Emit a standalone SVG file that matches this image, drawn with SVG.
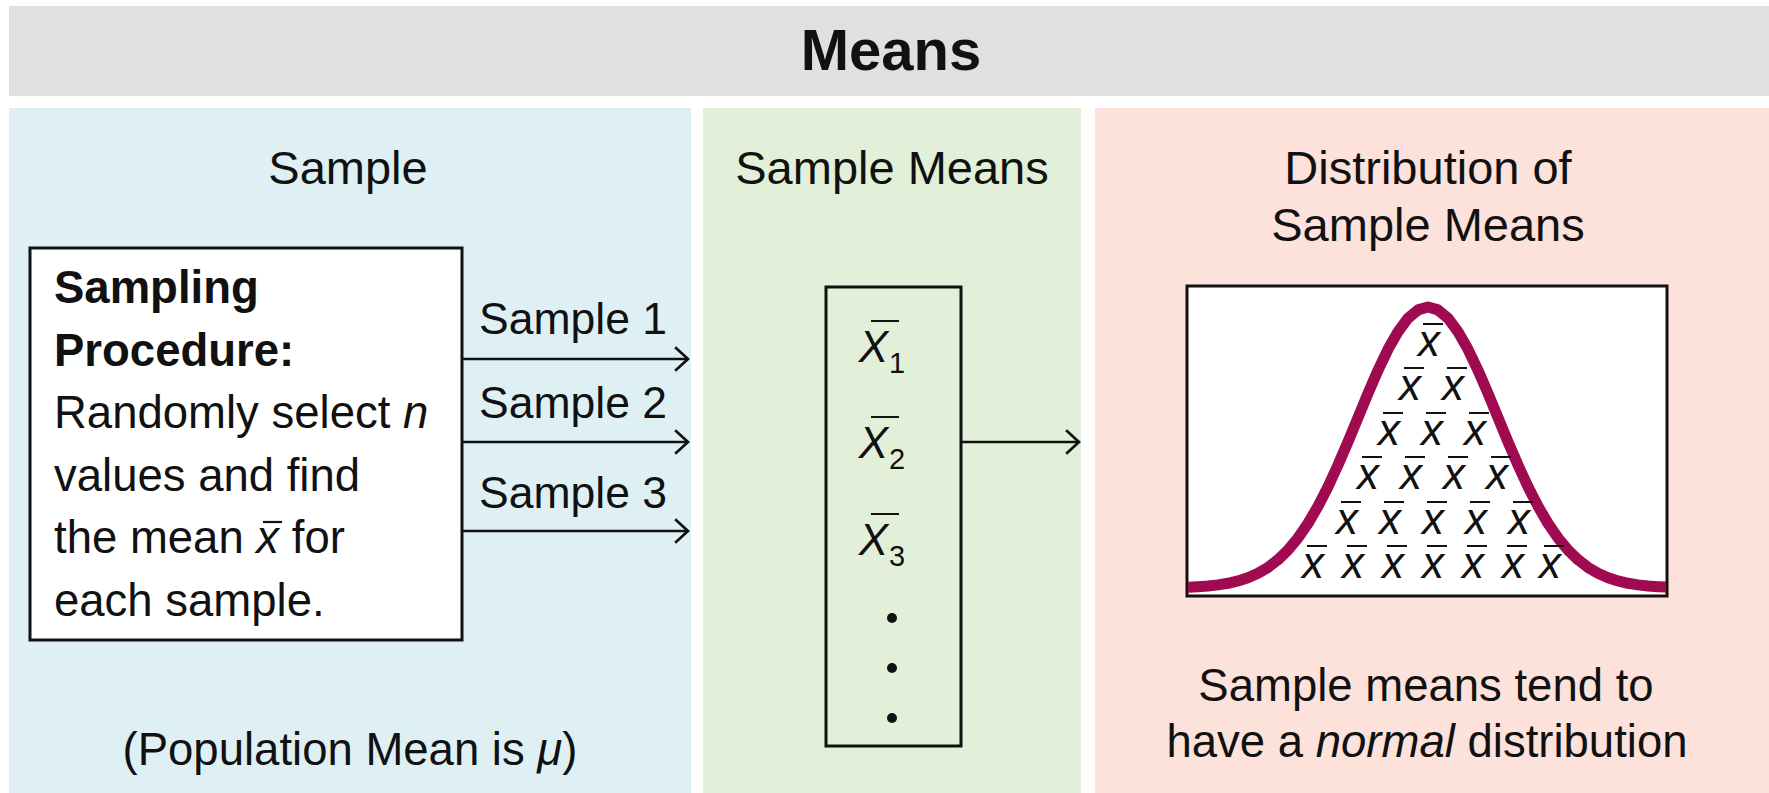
<svg xmlns="http://www.w3.org/2000/svg" width="1769" height="793" viewBox="0 0 1769 793">
  <style>
    text { font-family: "Liberation Sans", Arial, Helvetica, sans-serif; fill: #111; }
    .title { font-size: 58px; font-weight: bold; text-anchor: middle; }
    .hdr { font-size: 47px; text-anchor: middle; }
    .body { font-size: 45.5px; }
    .lbl { font-size: 44.5px; }
    .bold { font-weight: bold; }
    .mid { text-anchor: middle; }
    .it { font-style: italic; }
    .xbar { font-size: 44px; font-style: italic; text-anchor: middle; }
    .sub { font-size: 29px; font-style: normal; }
    .frame { fill: #fff; stroke: #111; stroke-width: 3; }
    .conn { fill: none; stroke: #111; stroke-width: 2.5; marker-end: url(#chev); }
    .bar { fill: none; stroke: #111; stroke-width: 2.2; }
  </style>
  <defs>
    <marker id="chev" markerUnits="userSpaceOnUse" markerWidth="20" markerHeight="30" viewBox="-16 -14 18 28" refX="0" refY="0" orient="auto">
      <path d="M-12,-11 L0,0 L-12,11" fill="none" stroke="#111" stroke-width="2.5"/>
    </marker>
    <clipPath id="plotClip">
      <rect x="1188" y="287" width="478" height="308"/>
    </clipPath>
  </defs>

  <rect width="1769" height="793" fill="#fff"/>

  <!-- heading bar -->
  <g id="title-bar">
    <rect x="9" y="6" width="1760" height="90" fill="#dfe0e0"/>
    <text class="title" x="891" y="70">Means</text>
  </g>

  <!-- three coloured columns -->
  <g id="panel-sample">
    <rect x="9" y="108" width="682" height="685" fill="#dff0f5"/>
    <text class="hdr" x="348" y="184">Sample</text>
    <text class="body mid" x="350" y="765">(Population Mean is <tspan class="it">μ</tspan>)</text>
  </g>

  <g id="panel-means">
    <rect x="703" y="108" width="378" height="685" fill="#e2f0d9"/>
    <text class="hdr" x="892" y="184">Sample Means</text>
  </g>

  <g id="panel-distribution">
    <rect x="1095" y="108" width="674" height="685" fill="#fde1db"/>
    <text class="hdr" x="1428" y="184">Distribution of</text>
    <text class="hdr" x="1428" y="241">Sample Means</text>
    <text class="body mid" x="1426" y="701">Sample means tend to</text>
    <text class="body mid" x="1427" y="757">have a <tspan class="it">normal</tspan> distribution</text>
  </g>

  <!-- sampling procedure box -->
  <g id="sampling-procedure">
    <rect class="frame" x="30" y="248" width="432" height="392"/>
    <text class="body bold" x="54" y="303">Sampling</text>
    <text class="body bold" x="54" y="366">Procedure:</text>
    <text class="body" x="54" y="428">Randomly select <tspan class="it">n</tspan></text>
    <text class="body" x="54" y="491">values and find</text>
    <text class="body" x="54" y="553">the mean <tspan class="it">x</tspan> for</text>
    <path class="bar" d="M263,522 h19"/>
    <text class="body" x="54" y="616">each sample.</text>
  </g>

  <!-- list of sample means -->
  <g id="sample-means-list">
    <rect x="826" y="287" width="135" height="459" fill="none" stroke="#111" stroke-width="3"/>
    <text class="xbar" x="882" y="362">X<tspan class="sub" dx="1" dy="11">1</tspan></text>
    <text class="xbar" x="882" y="458">X<tspan class="sub" dx="1" dy="11">2</tspan></text>
    <text class="xbar" x="882" y="555">X<tspan class="sub" dx="1" dy="11">3</tspan></text>
    <path class="bar" d="M871,321 h28 M871,417 h28 M871,514 h28"/>
    <circle cx="892" cy="618" r="5" fill="#111"/>
    <circle cx="892" cy="668" r="5" fill="#111"/>
    <circle cx="892" cy="718" r="5" fill="#111"/>
  </g>

  <!-- normal curve with stacked sample means -->
  <g id="distribution-plot">
    <rect class="frame" x="1187" y="286" width="480" height="310"/>
    <path clip-path="url(#plotClip)" fill="none" stroke="#a00a50" stroke-width="11" stroke-linejoin="round"
      d="M1188,587.2 L1198,586.7 L1208,586 L1218,584.9 L1228,583.3 L1238,580.9 L1248,577.7 L1258,573.3 L1268,567.4 L1278,559.7 L1288,550 L1298,537.9 L1308,523.4 L1318,506.3 L1328,486.7 L1338,465 L1348,441.8 L1358,417.6 L1368,393.4 L1378,370.3 L1388,349.3 L1398,331.7 L1408,318.2 L1418,309.9 L1428,307 L1438,309.9 L1448,318.2 L1458,331.7 L1468,349.3 L1478,370.3 L1488,393.4 L1498,417.6 L1508,441.8 L1518,465 L1528,486.7 L1538,506.3 L1548,523.4 L1558,537.9 L1568,550 L1578,559.7 L1588,567.4 L1598,573.3 L1608,577.7 L1618,580.9 L1628,583.3 L1638,584.9 L1648,586 L1658,586.7 L1668,587.2"/>
    <g class="xs">
      <text class="xbar" x="1429" y="356">x</text>
      <text class="xbar" x="1410" y="400">x</text>
      <text class="xbar" x="1453" y="400">x</text>
      <text class="xbar" x="1389" y="445">x</text>
      <text class="xbar" x="1432" y="445">x</text>
      <text class="xbar" x="1475" y="445">x</text>
      <text class="xbar" x="1368" y="489">x</text>
      <text class="xbar" x="1411" y="489">x</text>
      <text class="xbar" x="1454" y="489">x</text>
      <text class="xbar" x="1497" y="489">x</text>
      <text class="xbar" x="1347" y="534">x</text>
      <text class="xbar" x="1390" y="534">x</text>
      <text class="xbar" x="1433" y="534">x</text>
      <text class="xbar" x="1476" y="534">x</text>
      <text class="xbar" x="1519" y="534">x</text>
      <text class="xbar" x="1313" y="578">x</text>
      <text class="xbar" x="1353" y="578">x</text>
      <text class="xbar" x="1393" y="578">x</text>
      <text class="xbar" x="1433" y="578">x</text>
      <text class="xbar" x="1473" y="578">x</text>
      <text class="xbar" x="1513" y="578">x</text>
      <text class="xbar" x="1550" y="578">x</text>
    </g>
    <path class="bar" d="M1423,324 h20
      M1404,368 h20 M1447,368 h20
      M1383,413 h20 M1426,413 h20 M1469,413 h20
      M1362,457 h20 M1405,457 h20 M1448,457 h20 M1491,457 h20
      M1341,502 h20 M1384,502 h20 M1427,502 h20 M1470,502 h20 M1513,502 h20
      M1307,546 h20 M1347,546 h20 M1387,546 h20 M1427,546 h20 M1467,546 h20 M1507,546 h20 M1544,546 h20"/>
  </g>

  <!-- connectors -->
  <g id="connectors">
    <line class="conn" x1="463" y1="359" x2="688" y2="359"/>
    <line class="conn" x1="463" y1="442" x2="688" y2="442"/>
    <line class="conn" x1="463" y1="531" x2="688" y2="531"/>
    <line class="conn" x1="962" y1="442" x2="1079" y2="442"/>
    <text class="lbl" x="479" y="334">Sample 1</text>
    <text class="lbl" x="479" y="418">Sample 2</text>
    <text class="lbl" x="479" y="508">Sample 3</text>
  </g>
</svg>
